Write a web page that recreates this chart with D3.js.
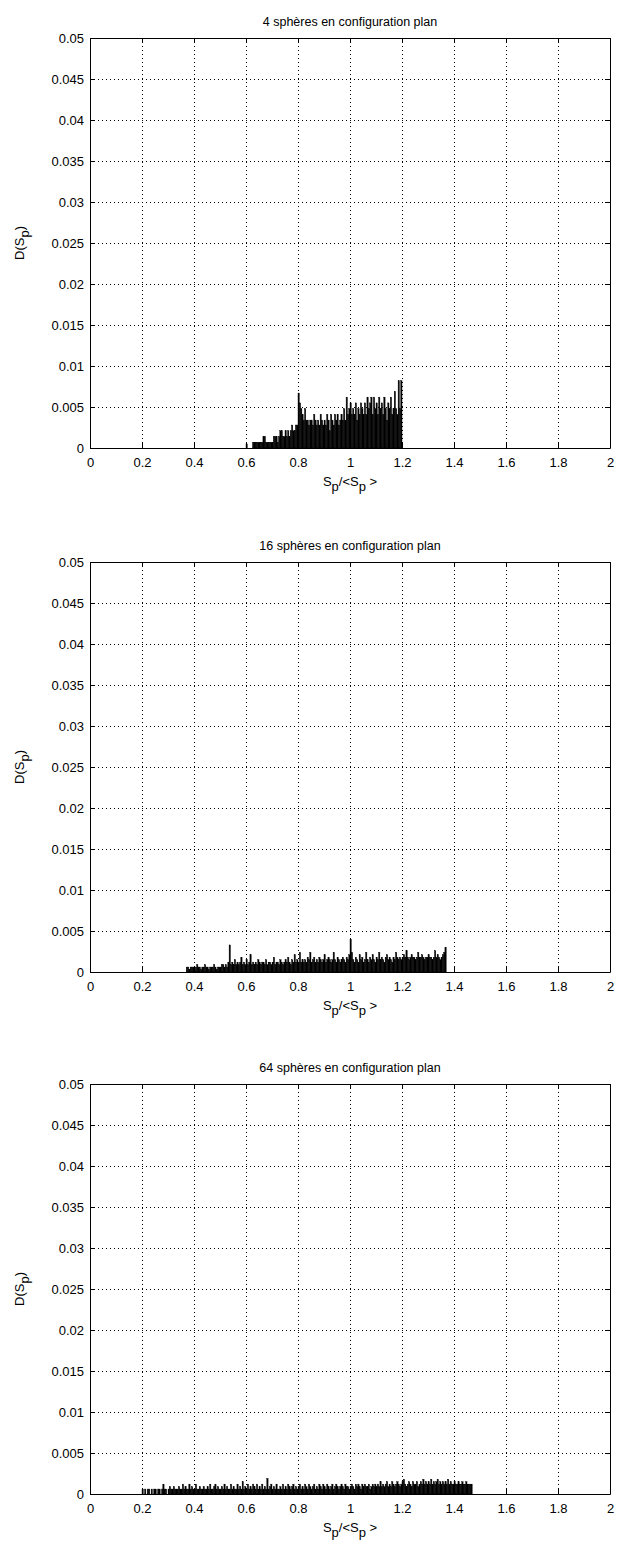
<!DOCTYPE html>
<html><head><meta charset="utf-8">
<script src="https://cdn.jsdelivr.net/npm/d3@7"></script>
<style>body{margin:0;background:#fff}svg{display:block}</style>
</head><body>
<svg id="c" width="618" height="1544"></svg>
<script>
// ---------- data ----------
const titles = ["4 sphères en configuration plan", "16 sphères en configuration plan", "64 sphères en configuration plan"];
const xTicks = [0, 0.2, 0.4, 0.6, 0.8, 1, 1.2, 1.4, 1.6, 1.8, 2];
const xTickLabels = ["0", "0.2", "0.4", "0.6", "0.8", "1", "1.2", "1.4", "1.6", "1.8", "2"];
const yTicks = [0, 0.005, 0.01, 0.015, 0.02, 0.025, 0.03, 0.035, 0.04, 0.045, 0.05];
const yTickLabels = ["0", "0.005", "0.01", "0.015", "0.02", "0.025", "0.03", "0.035", "0.04", "0.045", "0.05"];
const binWidth = 0.005;

const binStart4 = 0.600;
const values4 = [
0.0005,0,0,0,0,0.0007,0.0007,0.0007,0.0007,0.0007,
0.0007,0.0007,0.0007,0.0014,0.0014,0.0007,0.0007,0.0007,0.0007,0.0007,
0.0007,0.0014,0.0014,0.0014,0.0007,0.0014,0.0021,0.0021,0.0014,0.0014,
0.0021,0.0014,0.0021,0.0014,0.0021,0.0028,0.0021,0.0021,0.0028,0.0028,
0.0067,0.0055,0.0048,0.0041,0.0034,0.0048,0.0034,0.0034,0.0028,0.0034,
0.0034,0.0028,0.0041,0.0034,0.0028,0.0034,0.0028,0.0041,0.0034,0.0028,
0.0034,0.0028,0.0041,0.0034,0.0021,0.0041,0.0034,0.0028,0.0041,0.0034,
0.0041,0.0028,0.0034,0.0041,0.0034,0.0048,0.0034,0.0062,0.0041,0.0048,
0.0055,0.0041,0.0048,0.0041,0.0055,0.0034,0.0048,0.0041,0.0055,0.0048,
0.0041,0.0055,0.0041,0.0062,0.0048,0.0055,0.0062,0.0041,0.0062,0.0048,
0.0055,0.0041,0.0062,0.0048,0.0055,0.0041,0.0062,0.0048,0.0034,0.0055,
0.0048,0.0062,0.0041,0.0048,0.0069,0.0048,0.0041,0.0082,0.0048,0.0082
];

const binStart16 = 0.370;
const values16 = [
0.0006,0.0006,0.0003,0.0006,0.0006,0.0006,0.0003,0.0006,0.0009,0.0006,
0.0006,0.0003,0.0006,0.0006,0.0009,0.0006,0.0006,0.0003,0.0006,0.0006,
0.0006,0.0009,0.0006,0.0003,0.0006,0.0006,0.0006,0.0009,0.0009,0.0006,
0.0009,0.0006,0.0012,0.0033,0.0009,0.0012,0.0009,0.0015,0.0009,0.0012,
0.0009,0.0012,0.0018,0.0009,0.0012,0.0009,0.0015,0.0009,0.0012,0.0021,
0.0009,0.0012,0.0009,0.0012,0.0009,0.0015,0.0012,0.0009,0.0012,0.0012,
0.0009,0.0015,0.0009,0.0012,0.0012,0.0009,0.0012,0.0018,0.0009,0.0012,
0.0012,0.0009,0.0015,0.0012,0.0009,0.0012,0.0015,0.0012,0.0018,0.0012,
0.0009,0.0015,0.0012,0.0021,0.0012,0.0015,0.0012,0.0024,0.0012,0.0015,
0.0012,0.0015,0.0012,0.0018,0.0015,0.0024,0.0012,0.0015,0.0018,0.0012,
0.0015,0.0012,0.0018,0.0015,0.0012,0.0015,0.0021,0.0012,0.0015,0.0018,
0.0015,0.0012,0.0015,0.0024,0.0015,0.0012,0.0018,0.0015,0.0012,0.0015,
0.0018,0.0015,0.0012,0.0018,0.0015,0.0021,0.0040,0.0024,0.0015,0.0012,
0.0018,0.0015,0.0012,0.0021,0.0015,0.0018,0.0012,0.0015,0.0024,0.0015,
0.0012,0.0018,0.0015,0.0021,0.0015,0.0012,0.0018,0.0015,0.0024,0.0015,
0.0018,0.0015,0.0012,0.0018,0.0021,0.0015,0.0018,0.0015,0.0012,0.0018,
0.0015,0.0024,0.0018,0.0015,0.0018,0.0015,0.0018,0.0021,0.0018,0.0026,
0.0018,0.0015,0.0018,0.0021,0.0018,0.0018,0.0015,0.0018,0.0024,0.0018,
0.0018,0.0021,0.0018,0.0015,0.0018,0.0018,0.0021,0.0018,0.0018,0.0015,
0.0018,0.0026,0.0018,0.0021,0.0018,0.0015,0.0018,0.0021,0.0024,0.0030
];

const binStart64 = 0.200;
const values64 = [
0.0006,0,0.0006,0,0.0006,0.0006,0,0.0006,0,0.0006,
0.0006,0,0.0006,0.0006,0,0.0006,0.0012,0.0006,0.0006,0,
0.0006,0.0009,0.0006,0.0006,0.0009,0.0006,0.0006,0.0006,0.0009,0.0006,
0.0006,0.0012,0.0006,0.0009,0.0006,0.0006,0.0012,0.0006,0.0009,0.0006,
0.0006,0.0012,0.0006,0.0006,0.0009,0.0006,0.0006,0.0009,0.0006,0.0006,
0.0009,0.0006,0.0012,0.0006,0.0006,0.0009,0.0012,0.0006,0.0009,0.0006,
0.0006,0.0009,0.0006,0.0012,0.0006,0.0009,0.0006,0.0006,0.0012,0.0006,
0.0009,0.0006,0.0006,0.0012,0.0006,0.0009,0.0006,0.0015,0.0006,0.0009,
0.0006,0.0012,0.0006,0.0009,0.0006,0.0012,0.0009,0.0006,0.0012,0.0006,
0.0009,0.0006,0.0012,0.0006,0.0009,0.0006,0.0019,0.0006,0.0009,0.0012,
0.0006,0.0009,0.0006,0.0012,0.0006,0.0006,0.0009,0.0006,0.0012,0.0006,
0.0009,0.0006,0.0012,0.0009,0.0006,0.0009,0.0012,0.0006,0.0009,0.0006,
0.0009,0.0012,0.0006,0.0009,0.0006,0.0012,0.0009,0.0006,0.0012,0.0009,
0.0006,0.0009,0.0012,0.0006,0.0009,0.0006,0.0012,0.0009,0.0006,0.0012,
0.0009,0.0006,0.0012,0.0009,0.0006,0.0009,0.0012,0.0006,0.0009,0.0012,
0.0009,0.0006,0.0009,0.0012,0.0009,0.0006,0.0012,0.0009,0.0009,0.0006,
0.0009,0.0012,0.0009,0.0006,0.0012,0.0009,0.0012,0.0009,0.0006,0.0012,
0.0009,0.0012,0.0009,0.0009,0.0012,0.0006,0.0009,0.0012,0.0009,0.0012,
0.0009,0.0012,0.0009,0.0015,0.0009,0.0012,0.0009,0.0012,0.0015,0.0009,
0.0012,0.0009,0.0015,0.0012,0.0009,0.0012,0.0015,0.0012,0.0009,0.0012,
0.0015,0.0018,0.0012,0.0009,0.0012,0.0015,0.0012,0.0009,0.0015,0.0012,
0.0012,0.0015,0.0009,0.0012,0.0015,0.0012,0.0018,0.0012,0.0015,0.0012,
0.0015,0.0012,0.0018,0.0012,0.0015,0.0012,0.0015,0.0018,0.0012,0.0015,
0.0012,0.0015,0.0012,0.0015,0.0012,0.0018,0.0012,0.0015,0.0012,0.0012,
0.0015,0.0012,0.0012,0.0015,0.0012,0.0012,0.0015,0.0012,0.0012,0.0015,
0.0012,0.0012,0.0012,0.0012
];

const panels = [
  {title: titles[0], start: binStart4, values: values4},
  {title: titles[1], start: binStart16, values: values16},
  {title: titles[2], start: binStart64, values: values64}
];

// ---------- layout ----------
const left = 90, right = 610, plotH = 410;
const panelTops = [38, 562, 1084];
const FONT = "'Liberation Sans', Arial, sans-serif";
const svg = d3.select("#c");

panels.forEach((p, k) => {
  const top = panelTops[k], bottom = top + plotH;
  const x = d3.scaleLinear().domain([0, 2]).range([left, right]);
  const y = d3.scaleLinear().domain([0, 0.05]).range([bottom, top]);
  const g = svg.append("g");

  // grid
  g.append("g").selectAll("line").data(xTicks.slice(1, -1)).join("line")
    .attr("x1", d => Math.round(x(d)) + 0.5).attr("x2", d => Math.round(x(d)) + 0.5)
    .attr("y1", top).attr("y2", bottom)
    .attr("stroke", "#000").attr("stroke-width", 1).attr("stroke-dasharray", "1,3");
  g.append("g").selectAll("line").data(yTicks.slice(1, -1)).join("line")
    .attr("y1", d => Math.round(y(d)) + 0.5).attr("y2", d => Math.round(y(d)) + 0.5)
    .attr("x1", left).attr("x2", right)
    .attr("stroke", "#000").attr("stroke-width", 1).attr("stroke-dasharray", "1,3");

  // bars
  g.append("g").selectAll("rect").data(p.values).join("rect")
    .attr("x", (d, i) => x(p.start + i * binWidth))
    .attr("width", x(binWidth) - x(0))
    .attr("y", d => y(d))
    .attr("height", d => y(0) - y(d))
    .attr("fill", "#000")
    .attr("stroke", "#000").attr("stroke-width", 0.4);

  // axes
  const fmtX = (d, i) => xTickLabels[i];
  const fmtY = (d, i) => yTickLabels[i];
  const ax = g.append("g").attr("transform", `translate(0,${bottom})`)
    .call(d3.axisBottom(x).tickValues(xTicks).tickFormat(fmtX).tickSizeInner(-5).tickSizeOuter(0).tickPadding(10));
  const ay = g.append("g").attr("transform", `translate(${left},0)`)
    .call(d3.axisLeft(y).tickValues(yTicks).tickFormat(fmtY).tickSizeInner(-5).tickSizeOuter(0).tickPadding(6));
  const at = g.append("g").attr("transform", `translate(0,${top})`)
    .call(d3.axisTop(x).tickValues(xTicks).tickFormat("").tickSizeInner(-5).tickSizeOuter(0));
  const ar = g.append("g").attr("transform", `translate(${right},0)`)
    .call(d3.axisRight(y).tickValues(yTicks).tickFormat("").tickSizeInner(-5).tickSizeOuter(0));
  [ax, ay, at, ar].forEach(a => {
    a.selectAll("text").attr("font-family", FONT).attr("font-size", 13).attr("fill", "#000");
    a.selectAll("path,line").attr("stroke", "#000");
  });

  // title
  g.append("text").attr("x", (left + right) / 2).attr("y", top - 12)
    .attr("text-anchor", "middle").attr("font-family", FONT).attr("font-size", 12.5)
    .text(p.title);

  // x label S_p/<S_p>
  const xl = g.append("text").attr("x", (left + right) / 2).attr("y", bottom + 38)
    .attr("text-anchor", "middle").attr("font-family", FONT).attr("font-size", 13);
  xl.append("tspan").text("S");
  xl.append("tspan").attr("dy", 5).text("p");
  xl.append("tspan").attr("dy", -5).text("/<S");
  xl.append("tspan").attr("dy", 5).text("p");
  xl.append("tspan").attr("dy", -5).text(" >");

  // y label D(S_p)
  const yl = g.append("text")
    .attr("transform", `translate(24,${(top + bottom) / 2}) rotate(-90)`)
    .attr("text-anchor", "middle").attr("font-family", FONT).attr("font-size", 13);
  yl.append("tspan").text("D(S");
  yl.append("tspan").attr("dy", 5).text("p");
  yl.append("tspan").attr("dy", -5).text(")");
});
</script>
</body></html>
